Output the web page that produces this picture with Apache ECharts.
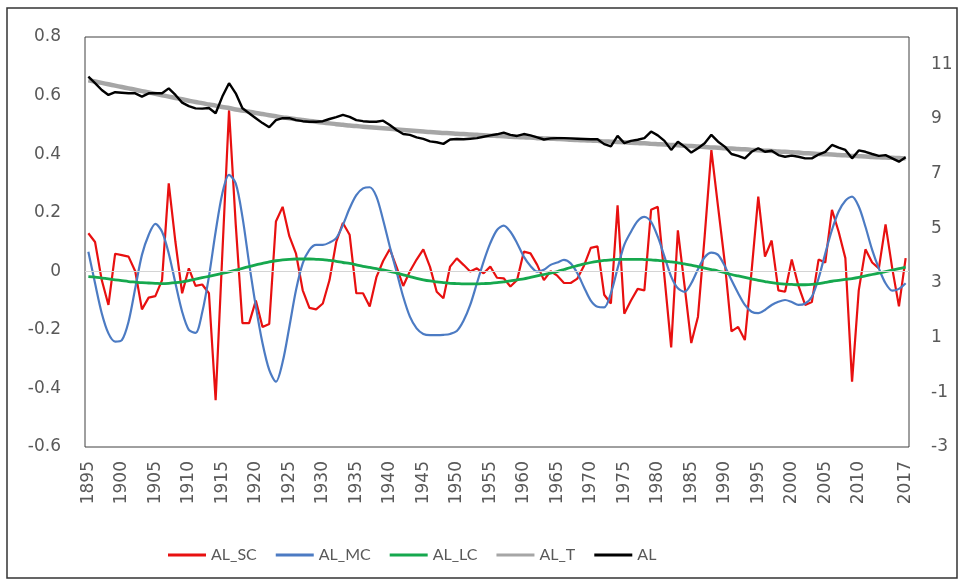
<!DOCTYPE html>
<html>
<head>
<meta charset="utf-8">
<script src="https://cdn.jsdelivr.net/npm/echarts@6/dist/echarts.min.js"></script>
<style>
  html, body { margin: 0; padding: 0; background: #fff; }
  #chart { width: 964px; height: 586px; }
</style>
</head>
<body>
<div id="chart"></div>
<script>
// Years on the category axis
const years = [];
for (let y = 1895; y <= 2017; y++) years.push(String(y));

// Short-cycle component (left axis)
const alSC = [
  0.13, 0.10, -0.03, -0.115, 0.06, 0.055, 0.05, 0.0, -0.13, -0.09,
  -0.085, -0.03, 0.30, 0.10, -0.075, 0.01, -0.05, -0.045, -0.075, -0.44,
  0.06, 0.55, 0.16, -0.177, -0.177, -0.10, -0.19, -0.18, 0.17, 0.22,
  0.12, 0.06, -0.065, -0.125, -0.13, -0.11, -0.03, 0.10, 0.165, 0.125,
  -0.075, -0.075, -0.12, -0.02, 0.035, 0.076, 0.015, -0.05, 0.0, 0.04,
  0.075, 0.015, -0.07, -0.092, 0.016, 0.044, 0.022, -0.001, 0.01, -0.007,
  0.016, -0.022, -0.024, -0.052, -0.03, 0.067, 0.061, 0.022, -0.03, 0.0,
  -0.015, -0.04, -0.04, -0.025, 0.02, 0.08, 0.085, -0.08, -0.11, 0.225,
  -0.145, -0.10, -0.06, -0.065, 0.21, 0.22, -0.02, -0.26, 0.14, -0.05,
  -0.245, -0.155, 0.12, 0.414, 0.22, 0.03, -0.205, -0.19, -0.235, 0.0,
  0.255, 0.05, 0.105, -0.065, -0.07, 0.04, -0.05, -0.115, -0.105, 0.04,
  0.03, 0.21, 0.135, 0.045, -0.377, -0.065, 0.075, 0.03, 0.01, 0.16,
  0.01, -0.12, 0.045
];

// Medium-cycle component (left axis)
const alMC = [
  0.067, -0.041, -0.143, -0.212, -0.24, -0.235, -0.172, -0.058, 0.056, 0.124,
  0.162, 0.135, 0.061, -0.041, -0.138, -0.2, -0.21, -0.14, -0.018, 0.135,
  0.266, 0.329, 0.30, 0.186, 0.027, -0.12, -0.246, -0.337, -0.377, -0.31,
  -0.19, -0.064, 0.027, 0.073, 0.09, 0.09, 0.098, 0.113, 0.158, 0.215,
  0.26, 0.283, 0.287, 0.255, 0.175, 0.084, -0.001, -0.087, -0.155, -0.195,
  -0.214, -0.218, -0.218, -0.217, -0.214, -0.204, -0.169, -0.115, -0.041, 0.033,
  0.096, 0.141, 0.156, 0.135, 0.096, 0.05, 0.018, -0.001, 0.005, 0.022,
  0.03, 0.039, 0.027, -0.007, -0.055, -0.1, -0.121, -0.123, -0.075, 0.01,
  0.09, 0.135, 0.172, 0.186, 0.169, 0.118, 0.05, -0.018, -0.058, -0.07,
  -0.041, 0.007, 0.048, 0.064, 0.056, 0.018, -0.03, -0.075, -0.115, -0.138,
  -0.143, -0.132, -0.115, -0.104, -0.098, -0.105, -0.115, -0.11, -0.087, -0.024,
  0.061, 0.141, 0.204, 0.241, 0.255, 0.221, 0.152, 0.073, 0.01, -0.041,
  -0.066, -0.06, -0.041
];

// Long-cycle component (left axis)
const alLC = [
  -0.018, -0.02, -0.023, -0.026, -0.029, -0.032, -0.035, -0.037, -0.039, -0.04,
  -0.041, -0.042, -0.041, -0.039, -0.036, -0.032, -0.027, -0.022, -0.017, -0.012,
  -0.007, -0.002, 0.004, 0.01, 0.016, 0.022, 0.027, 0.032, 0.036, 0.039,
  0.041, 0.042, 0.042, 0.042, 0.041, 0.04, 0.037, 0.034, 0.03, 0.027,
  0.022, 0.017, 0.013, 0.009, 0.005, 0.0, -0.006, -0.012, -0.018, -0.024,
  -0.029, -0.033, -0.036, -0.039, -0.041, -0.042, -0.043, -0.043, -0.043, -0.042,
  -0.041, -0.039, -0.036, -0.033, -0.029, -0.026, -0.021, -0.016, -0.011, -0.006,
  -0.001, 0.006, 0.013, 0.019, 0.025, 0.03, 0.034, 0.037, 0.039, 0.041,
  0.041, 0.041, 0.041, 0.04, 0.039, 0.037, 0.035, 0.032, 0.029, 0.025,
  0.021, 0.016, 0.011, 0.006, 0.001, -0.005, -0.011, -0.016, -0.021, -0.026,
  -0.031, -0.035, -0.039, -0.042, -0.044, -0.045, -0.046, -0.046, -0.045, -0.042,
  -0.038, -0.034, -0.031, -0.028, -0.025, -0.021, -0.016, -0.011, -0.006, -0.001,
  0.004, 0.009, 0.014
];

// Trend (right axis)
const alT = [
  10.42, 10.37, 10.32, 10.27, 10.22, 10.17, 10.12, 10.07, 10.02, 9.97,
  9.92, 9.87, 9.82, 9.77, 9.72, 9.67, 9.62, 9.58, 9.53, 9.49,
  9.44, 9.40, 9.35, 9.31, 9.27, 9.22, 9.18, 9.14, 9.10, 9.06,
  9.03, 8.99, 8.96, 8.93, 8.90, 8.87, 8.84, 8.81, 8.79, 8.76,
  8.74, 8.72, 8.70, 8.68, 8.66, 8.64, 8.62, 8.60, 8.58, 8.56,
  8.54, 8.52, 8.51, 8.49, 8.48, 8.46, 8.45, 8.43, 8.42, 8.41,
  8.39, 8.38, 8.37, 8.35, 8.34, 8.33, 8.32, 8.30, 8.29, 8.28,
  8.27, 8.26, 8.24, 8.23, 8.22, 8.21, 8.20, 8.18, 8.17, 8.16,
  8.15, 8.13, 8.12, 8.11, 8.09, 8.08, 8.07, 8.05, 8.04, 8.02,
  8.01, 7.99, 7.98, 7.96, 7.95, 7.93, 7.92, 7.90, 7.89, 7.87,
  7.86, 7.84, 7.83, 7.81, 7.80, 7.78, 7.77, 7.75, 7.74, 7.72,
  7.71, 7.70, 7.68, 7.67, 7.65, 7.64, 7.63, 7.61, 7.60, 7.59,
  7.58, 7.57, 7.56
];

// Observed series (right axis)
const al = [
  10.55, 10.31, 10.06, 9.88, 9.98, 9.96, 9.94, 9.94, 9.82, 9.94,
  9.94, 9.94, 10.12, 9.88, 9.60, 9.47, 9.39, 9.38, 9.40, 9.21,
  9.82, 10.31, 9.94, 9.39, 9.21, 9.03, 8.85, 8.70, 8.96, 9.03,
  9.03, 8.96, 8.92, 8.90, 8.90, 8.92, 9.00, 9.07, 9.15, 9.08,
  8.96, 8.92, 8.90, 8.90, 8.94, 8.78, 8.60, 8.45, 8.42, 8.33,
  8.27, 8.18, 8.15, 8.09, 8.25, 8.27, 8.26, 8.28, 8.30, 8.35,
  8.40, 8.44, 8.50, 8.42, 8.38, 8.45, 8.40, 8.33, 8.25, 8.29,
  8.30, 8.30, 8.29, 8.28, 8.27, 8.26, 8.26, 8.08, 8.00, 8.38,
  8.12, 8.20, 8.24, 8.30, 8.54, 8.40, 8.20, 7.87, 8.17, 7.99,
  7.77, 7.93, 8.11, 8.42, 8.17, 7.99, 7.72, 7.65, 7.56, 7.80,
  7.93, 7.80, 7.84, 7.68, 7.62, 7.66, 7.62, 7.56, 7.56, 7.70,
  7.80, 8.05, 7.95, 7.87, 7.56, 7.85, 7.80, 7.72, 7.65, 7.68,
  7.56, 7.44, 7.60
];

const textColor = '#595959';
const axisFont = 'DejaVu Sans';

const chart = echarts.init(document.getElementById('chart'), null, { renderer: 'canvas' });

chart.setOption({
  backgroundColor: '#ffffff',
  animation: false,
  graphic: [{
    type: 'rect',
    shape: { x: 7, y: 8, width: 950, height: 570 },
    style: { fill: 'none', stroke: '#333333', lineWidth: 1.5 },
    silent: true
  }],
  grid: {
    left: 85, right: 55, top: 37, bottom: 139,
    show: true, borderColor: '#404040', borderWidth: 1,
    backgroundColor: 'transparent'
  },
  legend: {
    left: 163, top: 542,
    icon: 'rect',
    itemWidth: 38, itemHeight: 3, itemGap: 19,
    textStyle: { color: textColor, fontSize: 16, fontFamily: 'Lato' },
    data: ['AL_SC', 'AL_MC', 'AL_LC', 'AL_T', 'AL']
  },
  xAxis: {
    type: 'category',
    data: years,
    boundaryGap: true,
    axisLine: { show: false },
    axisTick: { show: false },
    splitLine: { show: false },
    axisLabel: {
      rotate: 90,
      margin: 14,
      color: textColor,
      fontSize: 17,
      fontFamily: axisFont,
      interval: (idx) => (idx % 5 === 0 && idx <= 115) || idx === years.length - 1
    }
  },
  yAxis: [{
    type: 'value',
    min: -0.6, max: 0.8, interval: 0.2,
    axisLine: { show: false },
    axisTick: { show: false },
    splitLine: { show: false },
    axisLabel: {
      margin: 24, color: textColor, fontSize: 17, fontFamily: axisFont,
      formatter: (v) => String(+v.toFixed(1))
    }
  }, {
    type: 'value',
    position: 'right',
    min: -3, max: 12, interval: 1,
    axisLine: { show: false },
    axisTick: { show: false },
    splitLine: { show: false },
    axisLabel: {
      margin: 22, color: textColor, fontSize: 17, fontFamily: axisFont,
      formatter: (v) => (Math.abs(Math.round(v)) % 2 === 1 ? String(Math.round(v)) : '')
    }
  }],
  series: [{
    name: 'AL_SC', type: 'line', yAxisIndex: 0, data: alSC,
    symbol: 'none', color: '#E81010',
    lineStyle: { width: 2.2, color: '#E81010' },
    markLine: {
      silent: true, symbol: ['none', 'none'],
      label: { show: false },
      lineStyle: { color: '#d4d4d4', width: 1, type: 'solid' },
      data: [{ yAxis: 0 }]
    },
    z: 2
  }, {
    name: 'AL_MC', type: 'line', yAxisIndex: 0, data: alMC,
    symbol: 'none', color: '#4C7BC3', smooth: 0.3,
    lineStyle: { width: 2.2, color: '#4C7BC3' },
    z: 3
  }, {
    name: 'AL_LC', type: 'line', yAxisIndex: 0, data: alLC,
    symbol: 'none', color: '#16A84E', smooth: 0.3,
    lineStyle: { width: 2.8, color: '#16A84E' },
    z: 4
  }, {
    name: 'AL_T', type: 'line', yAxisIndex: 1, data: alT,
    symbol: 'none', color: '#A6A6A6', smooth: 0.3,
    lineStyle: { width: 4.5, color: '#A6A6A6' },
    z: 5
  }, {
    name: 'AL', type: 'line', yAxisIndex: 1, data: al,
    symbol: 'none', color: '#000000',
    lineStyle: { width: 2.4, color: '#000000' },
    z: 6
  }]
});
</script>
</body>
</html>
